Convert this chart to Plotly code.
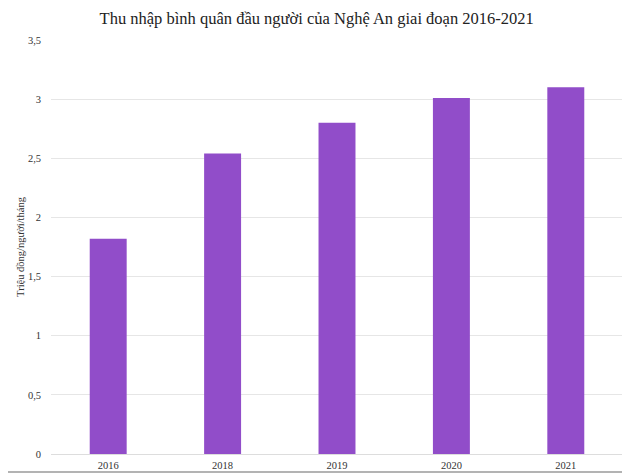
import plotly.graph_objects as go

# Dữ liệu
years = ["2016", "2018", "2019", "2020", "2021"]
income = [1.82, 2.54, 2.80, 3.01, 3.10]
y_ticks = [0, 0.5, 1, 1.5, 2, 2.5, 3, 3.5]
y_tick_labels = ["0", "0,5", "1", "1,5", "2", "2,5", "3", "3,5"]

fig = go.Figure()
fig.add_trace(
    go.Bar(
        x=years,
        y=income,
        marker=dict(color="#914DC9", line=dict(width=0)),
    )
)

# trang HTML có lề 8px quanh biểu đồ, nên bù lại ở lề trái / trên
fig.update_layout(
    width=630,
    height=475,
    margin=dict(l=43, r=15, t=32, b=29),
    paper_bgcolor="white",
    plot_bgcolor="white",
    font=dict(family="Liberation Serif", size=10.5, color="#333333"),
    title=dict(
        text="Thu nhập bình quân đầu người của Nghệ An giai đoạn 2016-2021",
        x=0.49,
        xanchor="center",
        xref="container",
        y=1,
        yanchor="top",
        yref="container",
        pad=dict(t=4),
        font=dict(family="Liberation Serif", size=16.5, color="#222222"),
    ),
    bargap=0.677,
    showlegend=False,
)

# đường viền xám ở đáy ảnh
fig.add_shape(
    type="line", xref="paper", yref="paper",
    x0=-0.1, x1=1.1, y0=-18 / 414, y1=-18 / 414,
    line=dict(color="#9A9A9A", width=1.5),
)

fig.update_xaxes(
    type="category",
    automargin=False,
    showgrid=False,
    showline=False,
    ticks="",
    ticklabelstandoff=3,
)
fig.update_yaxes(
    range=[0, 3.5],
    automargin=False,
    tickvals=y_ticks,
    ticktext=y_tick_labels,
    showgrid=True,
    gridcolor="#E6E6E6",
    gridwidth=1,
    zeroline=True,
    zerolinecolor="#DDDDDD",
    zerolinewidth=1,
    ticks="",
    ticklabelstandoff=9,
    title=dict(text="Triệu đồng/người/tháng", font=dict(size=10.5), standoff=1),
)

fig.write_html("out.html")
